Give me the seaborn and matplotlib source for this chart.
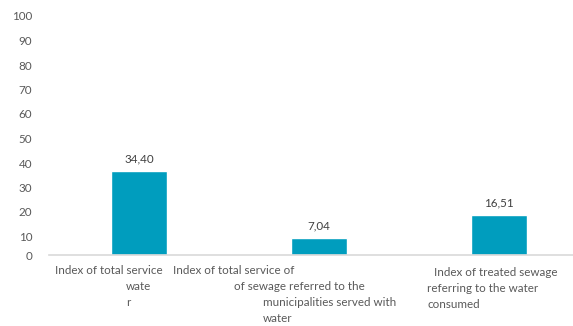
import matplotlib
matplotlib.use("Agg")
import matplotlib.pyplot as plt
import matplotlib.transforms as mtransforms
import seaborn as sns
import pandas as pd

# Indicator values (%)
categories = ["water", "sewage", "treated"]
values = [34.40, 7.04, 16.51]
value_labels = ["34,40", "7,04", "16,51"]

# Wrapped category captions, one list of lines per bar
caption_lines = [
    ["Index of total service", "wate", "r"],
    ["Index of total service of", "of sewage referred to the",
     "municipalities served with", "water"],
    ["Index of treated sewage", "referring to the water", "consumed"],
]
# horizontal start of each caption line relative to the bar centre (pixels)
caption_dx = [
    [-84, -13, -13],
    [-146, -85, -56, -56],
    [-65, -72, -72],
]
caption_y0 = [-15, -15, -18]

y_ticks = [0, 10, 20, 30, 40, 50, 60, 70, 80, 90, 100]

sns.set_theme(style="white")
plt.rcParams["font.family"] = ["Lato", "DejaVu Sans"]

BAR = "#009DBE"
TXT = "#595959"

df = pd.DataFrame({"cat": categories, "val": values})

W, H = 573, 326
fig = plt.figure(figsize=(W / 100, H / 100), dpi=100)
ax = fig.add_axes([49 / W, (H - 255) / H, 524 / W, 245 / H])

sns.barplot(data=df, x="cat", y="val", color=BAR, saturation=1,
            width=0.31, ax=ax)

ax.set_xlim(-0.5, 2.411)
ax.set_ylim(0, 100)
ax.set_xlabel("")
ax.set_ylabel("")
ax.set_xticks([])
ax.set_yticks(y_ticks)
ax.set_yticklabels([str(t) for t in y_ticks], color=TXT, fontsize=8.4)
ax.tick_params(axis="y", length=0, pad=12)

# non-zero tick labels sit slightly below their gridline position
shift = mtransforms.ScaledTranslation(0, -6 / 100, fig.dpi_scale_trans)
for t, lab in zip(y_ticks, ax.get_yticklabels()):
    if t != 0:
        lab.set_transform(lab.get_transform() + shift)

for side in ["left", "right", "top"]:
    ax.spines[side].set_visible(False)
ax.spines["bottom"].set_color("#D9D9D9")
ax.spines["bottom"].set_linewidth(1.2)

for i, (v, lab) in enumerate(zip(values, value_labels)):
    ax.annotate(lab, xy=(i, v), xytext=(0, 12), textcoords="offset pixels",
                ha="center", va="center", fontsize=8.4, color="#404040")

for i, lines in enumerate(caption_lines):
    for j, line in enumerate(lines):
        ax.annotate(line, xy=(i, 0), xytext=(caption_dx[i][j], caption_y0[i] - 16 * j),
                    textcoords="offset pixels", ha="left", va="center",
                    fontsize=8.4, color=TXT, annotation_clip=False)

fig.savefig("out.png", dpi=100)
